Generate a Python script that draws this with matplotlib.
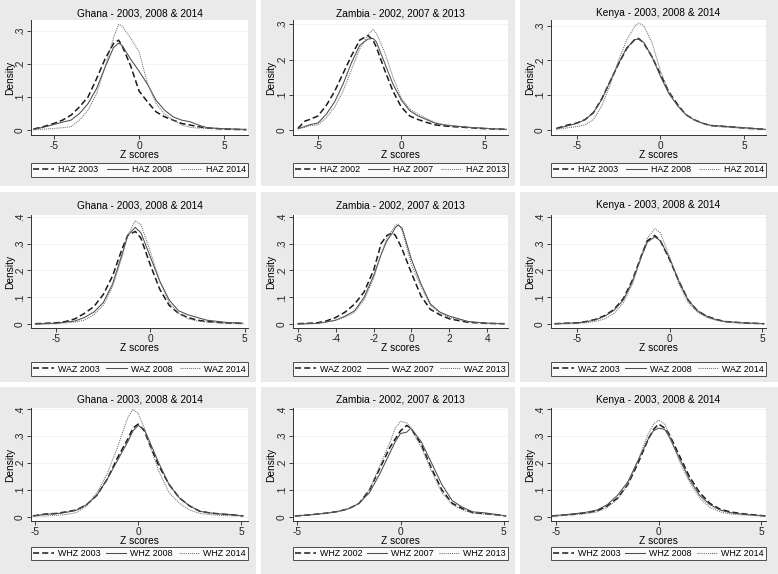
import numpy as np
import matplotlib.pyplot as plt
from matplotlib.patches import Rectangle

plt.rcParams['font.family'] = ['Liberation Sans', 'DejaVu Sans']
plt.rcParams['axes.unicode_minus'] = False

# ---- data ----
# HAZ row
ghana_haz_x = [-6.2, -5.5, -5, -4.5, -4, -3.5, -3, -2.5, -2, -1.5, -1.2, -1, -0.5, 0, 0.5, 1, 1.5, 2, 2.5, 3, 3.5, 4, 5, 6.3]
ghana_haz_2003 = [0.003, 0.012, 0.02, 0.03, 0.045, 0.07, 0.10, 0.155, 0.215, 0.262, 0.272, 0.255, 0.195, 0.118, 0.085, 0.055, 0.04, 0.03, 0.02, 0.015, 0.01, 0.006, 0.003, 0.001]
ghana_haz_2008 = [0.002, 0.01, 0.017, 0.024, 0.03, 0.05, 0.08, 0.125, 0.19, 0.25, 0.263, 0.256, 0.215, 0.178, 0.138, 0.09, 0.06, 0.04, 0.03, 0.025, 0.015, 0.007, 0.004, 0.002]
ghana_haz_2014 = [0.001, 0.003, 0.005, 0.007, 0.01, 0.03, 0.06, 0.11, 0.19, 0.28, 0.32, 0.315, 0.278, 0.237, 0.14, 0.08, 0.048, 0.03, 0.015, 0.008, 0.006, 0.005, 0.003, 0.001]

zambia_haz_x = [-6.2, -5.8, -5.5, -5, -4.5, -4, -3.5, -3, -2.5, -2, -1.7, -1.5, -1, -0.5, 0, 0.5, 1, 1.5, 2, 2.5, 3, 4, 5, 6.3]
zambia_haz_2002 = [0.005, 0.025, 0.03, 0.04, 0.07, 0.11, 0.16, 0.21, 0.255, 0.268, 0.255, 0.235, 0.17, 0.11, 0.065, 0.04, 0.03, 0.022, 0.015, 0.012, 0.01, 0.007, 0.004, 0.002]
zambia_haz_2007 = [0.004, 0.01, 0.015, 0.02, 0.045, 0.08, 0.13, 0.19, 0.24, 0.258, 0.26, 0.25, 0.19, 0.13, 0.085, 0.055, 0.04, 0.03, 0.02, 0.015, 0.012, 0.008, 0.005, 0.002]
zambia_haz_2013 = [0.003, 0.008, 0.012, 0.015, 0.035, 0.065, 0.11, 0.17, 0.23, 0.27, 0.285, 0.275, 0.22, 0.15, 0.09, 0.06, 0.045, 0.033, 0.022, 0.016, 0.013, 0.008, 0.005, 0.002]

kenya_haz_x = [-6.2, -5.5, -5, -4.5, -4, -3.5, -3, -2.5, -2, -1.5, -1.3, -1, -0.5, 0, 0.5, 1, 1.5, 2, 2.5, 3, 4, 5, 6.3]
kenya_haz_2003 = [0.005, 0.015, 0.02, 0.03, 0.05, 0.09, 0.14, 0.19, 0.235, 0.262, 0.263, 0.25, 0.21, 0.16, 0.11, 0.075, 0.045, 0.03, 0.02, 0.013, 0.01, 0.006, 0.002]
kenya_haz_2008 = [0.004, 0.013, 0.019, 0.03, 0.05, 0.088, 0.14, 0.192, 0.237, 0.26, 0.261, 0.252, 0.21, 0.155, 0.105, 0.072, 0.045, 0.03, 0.02, 0.014, 0.01, 0.007, 0.002]
kenya_haz_2014 = [0.002, 0.007, 0.01, 0.015, 0.03, 0.07, 0.13, 0.2, 0.26, 0.3, 0.307, 0.3, 0.25, 0.17, 0.11, 0.07, 0.045, 0.03, 0.02, 0.012, 0.008, 0.005, 0.002]

# WAZ row
ghana_waz_x = [-6.1, -5, -4.5, -4, -3.5, -3, -2.5, -2, -1.5, -1.2, -0.8, -0.5, 0, 0.5, 1, 1.5, 2, 2.5, 3, 4, 4.9]
ghana_waz_2003 = [0.002, 0.005, 0.01, 0.02, 0.04, 0.065, 0.11, 0.18, 0.28, 0.33, 0.345, 0.32, 0.22, 0.13, 0.07, 0.04, 0.025, 0.015, 0.01, 0.005, 0.003]
ghana_waz_2008 = [0.001, 0.004, 0.008, 0.012, 0.025, 0.045, 0.08, 0.15, 0.26, 0.33, 0.36, 0.34, 0.25, 0.16, 0.09, 0.05, 0.035, 0.025, 0.015, 0.007, 0.004]
ghana_waz_2014 = [0.0, 0.002, 0.005, 0.008, 0.015, 0.035, 0.07, 0.14, 0.25, 0.33, 0.385, 0.37, 0.27, 0.16, 0.08, 0.04, 0.02, 0.012, 0.008, 0.003, 0.002]

zambia_waz_x = [-6, -5, -4.5, -4, -3.5, -3, -2.5, -2, -1.6, -1.3, -1, -0.85, -0.7, -0.5, 0, 0.5, 1, 1.5, 2, 3, 4, 4.9]
zambia_waz_2002 = [0.002, 0.005, 0.012, 0.025, 0.045, 0.075, 0.12, 0.2, 0.3, 0.33, 0.34, 0.33, 0.31, 0.28, 0.19, 0.105, 0.055, 0.035, 0.02, 0.007, 0.003, 0.002]
zambia_waz_2007 = [0.001, 0.003, 0.008, 0.015, 0.03, 0.05, 0.1, 0.18, 0.26, 0.31, 0.34, 0.36, 0.368, 0.358, 0.24, 0.15, 0.075, 0.045, 0.03, 0.01, 0.004, 0.002]
zambia_waz_2013 = [0.001, 0.003, 0.008, 0.015, 0.027, 0.045, 0.09, 0.17, 0.26, 0.32, 0.35, 0.368, 0.372, 0.35, 0.22, 0.14, 0.07, 0.042, 0.025, 0.009, 0.003, 0.002]

kenya_waz_x = [-6.2, -5, -4.5, -4, -3.5, -3, -2.5, -2, -1.5, -1.2, -0.8, -0.5, 0, 0.5, 1, 1.5, 2, 2.5, 3, 4, 5.1]
kenya_waz_2003 = [0.002, 0.005, 0.01, 0.018, 0.032, 0.055, 0.095, 0.165, 0.26, 0.31, 0.33, 0.31, 0.24, 0.16, 0.09, 0.05, 0.03, 0.018, 0.01, 0.005, 0.002]
kenya_waz_2008 = [0.002, 0.005, 0.009, 0.016, 0.03, 0.052, 0.09, 0.16, 0.255, 0.305, 0.325, 0.31, 0.245, 0.16, 0.09, 0.05, 0.03, 0.017, 0.01, 0.005, 0.002]
kenya_waz_2014 = [0.001, 0.003, 0.006, 0.01, 0.02, 0.04, 0.08, 0.15, 0.26, 0.32, 0.355, 0.34, 0.25, 0.15, 0.08, 0.045, 0.025, 0.015, 0.008, 0.004, 0.002]

# WHZ row
ghana_whz_x = [-5.1, -4.5, -4, -3.5, -3, -2.5, -2, -1.5, -1, -0.5, -0.25, 0, 0.3, 0.5, 1, 1.5, 2, 2.5, 3, 3.5, 4, 4.5, 5.1]
ghana_whz_2003 = [0.003, 0.01, 0.012, 0.018, 0.025, 0.045, 0.08, 0.14, 0.22, 0.29, 0.33, 0.345, 0.32, 0.28, 0.19, 0.12, 0.07, 0.04, 0.02, 0.014, 0.01, 0.007, 0.003]
ghana_whz_2008 = [0.003, 0.009, 0.011, 0.016, 0.024, 0.045, 0.08, 0.14, 0.21, 0.28, 0.32, 0.34, 0.325, 0.29, 0.2, 0.12, 0.07, 0.04, 0.02, 0.014, 0.01, 0.008, 0.003]
ghana_whz_2014 = [0.002, 0.003, 0.005, 0.008, 0.015, 0.04, 0.09, 0.16, 0.26, 0.37, 0.4, 0.385, 0.33, 0.28, 0.17, 0.09, 0.05, 0.025, 0.012, 0.008, 0.005, 0.004, 0.002]

zambia_whz_x = [-5.1, -4.5, -4, -3.5, -3, -2.5, -2, -1.5, -1, -0.5, -0.25, 0, 0.3, 0.5, 1, 1.5, 2, 2.5, 3, 3.5, 4, 4.5, 5.1]
zambia_whz_2002 = [0.003, 0.006, 0.01, 0.014, 0.02, 0.03, 0.05, 0.1, 0.18, 0.26, 0.29, 0.32, 0.34, 0.33, 0.27, 0.18, 0.1, 0.05, 0.03, 0.015, 0.012, 0.008, 0.003]
zambia_whz_2007 = [0.003, 0.006, 0.01, 0.014, 0.02, 0.03, 0.05, 0.09, 0.16, 0.24, 0.28, 0.31, 0.315, 0.33, 0.28, 0.2, 0.12, 0.06, 0.035, 0.018, 0.015, 0.01, 0.003]
zambia_whz_2013 = [0.003, 0.006, 0.01, 0.014, 0.02, 0.03, 0.05, 0.1, 0.19, 0.28, 0.33, 0.355, 0.35, 0.33, 0.26, 0.17, 0.09, 0.045, 0.025, 0.013, 0.01, 0.007, 0.003]

kenya_whz_x = [-5.2, -4.5, -4, -3.5, -3, -2.5, -2, -1.5, -1, -0.5, -0.25, 0, 0.3, 0.5, 1, 1.5, 2, 2.5, 3, 3.5, 4, 4.5, 5.2]
kenya_whz_2003 = [0.003, 0.007, 0.01, 0.015, 0.022, 0.04, 0.07, 0.12, 0.2, 0.29, 0.325, 0.345, 0.33, 0.31, 0.23, 0.15, 0.09, 0.05, 0.028, 0.018, 0.012, 0.008, 0.003]
kenya_whz_2008 = [0.003, 0.008, 0.012, 0.017, 0.025, 0.045, 0.08, 0.13, 0.21, 0.29, 0.32, 0.33, 0.325, 0.3, 0.22, 0.14, 0.08, 0.045, 0.025, 0.015, 0.01, 0.007, 0.003]
kenya_whz_2014 = [0.002, 0.005, 0.008, 0.012, 0.018, 0.035, 0.065, 0.12, 0.21, 0.31, 0.345, 0.36, 0.345, 0.31, 0.21, 0.13, 0.07, 0.035, 0.018, 0.01, 0.007, 0.005, 0.002]

titles = ['Ghana - 2003, 2008 & 2014', 'Zambia - 2002, 2007 & 2013', 'Kenya - 2003, 2008 & 2014']
years = [['2003', '2008', '2014'], ['2002', '2007', '2013'], ['2003', '2008', '2014']]
indicators = ['HAZ', 'WAZ', 'WHZ']

# ---- layout, in pixels of the 778x574 picture ----
W, H = 778, 574
panel_cols = [(0, 256), (261, 515), (520, 778)]
panel_rows = [(0, 186), (192, 382), (387, 574)]
plot_x = [(31, 248), (293, 508), (551, 766)]
plot_y = [(20, 135), (215, 328), (408, 521)]
legend_y = [(162, 178), (361, 377), (545, 562)]

line_styles = [
    dict(color='#1a1a1a', lw=1.1, ls=(0, (4, 2))),
    dict(color='#4d4d4d', lw=0.75, ls='-'),
    dict(color='#6e6e6e', lw=0.75, ls=(0, (1, 1))),
]

panels = [
    # (row, col, x, curves, xlim, ylim, xticks, yticks)
    (0, 0, ghana_haz_x, [ghana_haz_2003, ghana_haz_2008, ghana_haz_2014], (-6.35, 6.4), (-0.015, 0.333), [-5, 0, 5], [0, .1, .2, .3]),
    (0, 1, zambia_haz_x, [zambia_haz_2002, zambia_haz_2007, zambia_haz_2013], (-6.5, 6.4), (-0.014, 0.312), [-5, 0, 5], [0, .1, .2, .3]),
    (0, 2, kenya_haz_x, [kenya_haz_2003, kenya_haz_2008, kenya_haz_2014], (-6.53, 6.3), (-0.014, 0.316), [-5, 0, 5], [0, .1, .2, .3]),
    (1, 0, ghana_waz_x, [ghana_waz_2003, ghana_waz_2008, ghana_waz_2014], (-6.33, 5.18), (-0.014, 0.406), [-5, 0, 5], [0, .1, .2, .3, .4]),
    (1, 1, zambia_waz_x, [zambia_waz_2002, zambia_waz_2007, zambia_waz_2013], (-6.25, 5.09), (-0.014, 0.406), [-6, -4, -2, 0, 2, 4], [0, .1, .2, .3, .4]),
    (1, 2, kenya_waz_x, [kenya_waz_2003, kenya_waz_2008, kenya_waz_2014], (-6.4, 5.2), (-0.014, 0.406), [-5, 0, 5], [0, .1, .2, .3, .4]),
    (2, 0, ghana_whz_x, [ghana_whz_2003, ghana_whz_2008, ghana_whz_2014], (-5.2, 5.33), (-0.016, 0.405), [-5, 0, 5], [0, .1, .2, .3, .4]),
    (2, 1, zambia_whz_x, [zambia_whz_2002, zambia_whz_2007, zambia_whz_2013], (-5.2, 5.2), (-0.016, 0.405), [-5, 0, 5], [0, .1, .2, .3, .4]),
    (2, 2, kenya_whz_x, [kenya_whz_2003, kenya_whz_2008, kenya_whz_2014], (-5.25, 5.24), (-0.016, 0.405), [-5, 0, 5], [0, .1, .2, .3, .4]),
]


def fx(px):
    return px / W


def fy(py):
    return 1 - py / H


def tick_text(v):
    if v == 0:
        return '0'
    return ('%g' % v).replace('0.', '.')


fig = plt.figure(figsize=(W / 100, H / 100), dpi=100)
fig.patch.set_facecolor('white')

for row, col, xs, curves, xlim, ylim, xticks, yticks in panels:
    # grey graph region behind each panel (drawn under the axes)
    c0, c1 = panel_cols[col]
    r0, r1 = panel_rows[row]
    fig.patches.append(Rectangle((fx(c0), fy(r1)), fx(c1 - c0), (r1 - r0) / H,
                                 transform=fig.transFigure, facecolor='#eaeaea',
                                 edgecolor='none', zorder=-5))

    x0, x1 = plot_x[col]
    y0, y1 = plot_y[row]
    ax = fig.add_axes([fx(x0), fy(y1), fx(x1 - x0), (y1 - y0) / H])
    ax.set_zorder(1)
    ax.set_facecolor('white')

    handles = []
    for ys, st, yr in zip(curves, line_styles, years[col]):
        h, = ax.plot(xs, ys, color=st['color'], lw=st['lw'], ls=st['ls'],
                     label=f'{indicators[row]} {yr}')
        handles.append(h)

    ax.set_xlim(*xlim)
    ax.set_ylim(*ylim)
    ax.set_xticks(xticks)
    ax.set_xticklabels([str(t) for t in xticks])
    ax.set_yticks(yticks)
    ax.set_yticklabels([tick_text(t) for t in yticks], rotation=90, va='center')
    ax.tick_params(labelsize=7.3, length=3, width=0.6, pad=1.5, colors='#222222')
    for t in yticks:
        ax.axhline(t, color='#eef2f3', lw=0.6, zorder=0)
    for side in ['top', 'right']:
        ax.spines[side].set_visible(False)
    for side in ['left', 'bottom']:
        ax.spines[side].set_color('#333333')
        ax.spines[side].set_linewidth(0.7)

    # title and axis titles
    xc = fx((x0 + x1) / 2)
    fig.text(xc, fy(r0 + 13), titles[col], ha='center', va='center', fontsize=7.3)
    fig.text(xc, fy(y1 + 20), 'Z scores', ha='center', va='center', fontsize=7.3)
    fig.text(fx(c0 + 10), fy((y0 + y1) / 2), 'Density', ha='center', va='center',
             rotation=90, fontsize=7.3)

    # legend box below the plot
    ly0, ly1 = legend_y[row]
    leg = ax.legend(handles=handles, loc='center', ncol=3, mode='expand',
                    bbox_to_anchor=(fx(x0), fy(ly1), fx(x1 - x0), (ly1 - ly0) / H),
                    bbox_transform=fig.transFigure, fontsize=6.4, frameon=True,
                    fancybox=False, borderpad=0.25, handlelength=2.3,
                    handletextpad=0.45, columnspacing=0.5, borderaxespad=0)
    leg.get_frame().set_edgecolor('#222222')
    leg.get_frame().set_linewidth(0.7)
    leg.get_frame().set_facecolor('white')

fig.savefig('out.png', dpi=100)
